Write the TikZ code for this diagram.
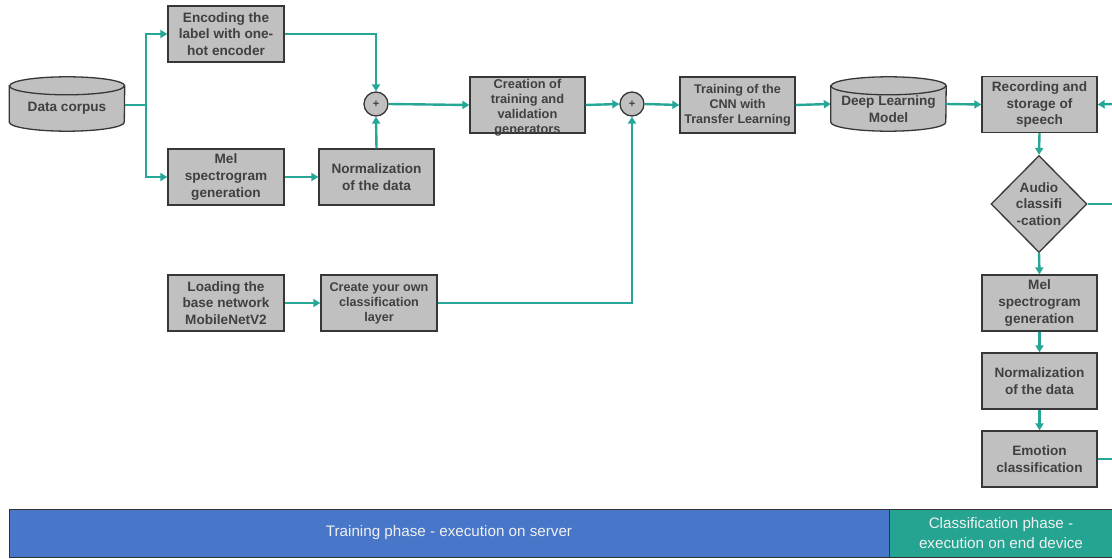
\documentclass[tikz,border=0pt]{standalone}
\usepackage{fontspec}
\setmainfont{Liberation Sans}
\usetikzlibrary{shapes.geometric,arrows.meta,backgrounds}
\definecolor{conncol}{RGB}{38,166,150}
\definecolor{boxfill}{RGB}{192,192,192}
\definecolor{boxline}{RGB}{55,55,55}
\definecolor{txtcol}{RGB}{64,64,64}
\definecolor{barblue}{RGB}{72,118,200}
\definecolor{barteal}{RGB}{38,164,146}
% #1 node, #2 ellipse y radius, #3 upward offset of the cylinder w.r.t. the node
\newcommand\mycyl[3]{%
  \path[draw=boxline, fill=boxfill, line width=1.3pt]
    ([yshift=#3-#2]#1.north west) -- ([yshift=#3+#2]#1.south west)
    arc[start angle=180, end angle=360, x radius=57.5pt, y radius=#2]
    -- ([yshift=#3-#2]#1.north east)
    arc[start angle=0, end angle=180, x radius=57.5pt, y radius=#2] -- cycle;
  \draw[boxline, line width=1.3pt] ([yshift=#3-#2]#1.north west)
    arc[start angle=180, end angle=360, x radius=57.5pt, y radius=#2];
}
\begin{document}
\begin{tikzpicture}[x=1pt,y=-1pt,
  box/.style={draw=boxline, fill=boxfill, line width=1.3pt, minimum width=115pt,
    minimum height=56pt, inner sep=0pt, align=center, text=txtcol,
    font=\bfseries\fontsize{13.6}{16.6}\selectfont},
  smallbox/.style={box, font=\bfseries\fontsize{12.6}{15}\selectfont},
  cylnode/.style={minimum width=115pt, minimum height=54pt, inner sep=0pt, text=txtcol,
    align=center, font=\bfseries\fontsize{13.6}{16.6}\selectfont},
  decision/.style={diamond, aspect=1, draw=boxline, fill=boxfill, line width=1.3pt,
    minimum width=96pt, minimum height=97pt, inner sep=0pt, align=center, text=txtcol,
    font=\bfseries\fontsize{13.6}{16.6}\selectfont},
  plus/.style={circle, draw=boxline, fill=boxfill, line width=1.3pt, minimum size=24pt,
    inner sep=0pt, text=txtcol, font=\bfseries\fontsize{11}{11}\selectfont},
  conn/.style={draw=conncol, line width=2.4pt, -{Triangle[length=7pt,width=8pt]}},
  line/.style={draw=conncol, line width=2.4pt},
  bar/.style={draw=black!80, line width=0.8pt, minimum height=48pt, inner sep=0pt,
    align=center, text=white!94!black, font=\fontsize{15.2}{19.5}\selectfont}
]
\useasboundingbox (0,0) rectangle (1112,559);

% training branch
\node[cylnode] (dc) at (67,108) {Data corpus};
\node[box, minimum width=116pt] (enc) at (226,34) {Encoding the\\label with one-\\hot encoder};
\node[box, minimum width=116pt] (mel) at (226,177) {Mel\\spectrogram\\generation};
\node[box] (norm) at (376.5,177) {Normalization\\of the data};
\node[plus] (p1) at (376,104) {+};
\node[smallbox, font=\bfseries\fontsize{12.8}{15}\selectfont] (cre) at (527.5,105) {\raisebox{-6pt}[0pt][0pt]{\begin{tabular}{@{}c@{}}Creation of\\training and\\validation\\generators\end{tabular}}};
\node[plus] (p2) at (632,104) {+};
\node[box, minimum width=116pt] (load) at (226,303) {Loading the\\base network\\MobileNetV2};
\node[smallbox, minimum width=116pt] (own) at (379,303) {Create your own\\classification\\layer};
\node[smallbox] (cnn) at (737.5,105) {Training of the\\CNN with\\Transfer Learning};
\node[cylnode] (dlm) at (888.5,109) {Deep Learning\\Model};

% classification branch
\node[box] (rec) at (1039.5,104.5) {Recording and\\storage of\\speech};
\node[decision] (dia) at (1039,204) {Audio\\classifi\\-cation};
\node[box] (mel2) at (1039.5,303) {Mel\\spectrogram\\generation};
\node[box] (norm2) at (1039.5,381) {Normalization\\of the data};
\node[box] (emo) at (1039.5,459) {Emotion\\classification};

\begin{scope}[on background layer]
  \mycyl{dc}{9pt}{4pt}
  \mycyl{dlm}{9pt}{5pt}
\end{scope}

\coordinate (br) at (146,105);
\coordinate (rin) at (1112,104);
\coordinate (aout) at (1112,204);
\coordinate (eout) at (1112,459);

\draw[line] ([yshift=3pt]dc.east) -- (br);
\draw[conn] (br) |- (enc.west);
\draw[conn] (br) |- (mel.west);
\draw[conn] (enc.east) -| (p1.north);
\draw[conn] (mel.east) -- (norm.west);
\draw[conn] (norm.north) -- (p1.south);
\draw[conn] (p1.east) -- (cre.west);
\draw[conn] (cre.east) -- (p2.west);
\draw[conn] (load.east) -- (own.west);
\draw[conn] (own.east) -| (p2.south);
\draw[conn] (p2.east) -- (cnn.west);
\draw[conn] (cnn.east) -- ([yshift=5pt]dlm.west);
\draw[conn] ([yshift=5pt]dlm.east) -- (rec.west);
\draw[conn] (rin) -- (rec.east);
\draw[conn] (rec.south) -- (dia.north);
\draw[line] (dia.east) -- (aout);
\draw[conn] (dia.south) -- (mel2.north);
\draw[conn] (mel2.south) -- (norm2.north);
\draw[conn] (norm2.south) -- (emo.north);
\draw[line] (emo.east) -- (eout);

% phase bars
\node[bar, fill=barblue, minimum width=880pt] (train) at (449,533) {Training phase - execution on server};
\node[bar, fill=barteal, minimum width=224pt] (cls) at (1001,533) {Classification phase -\\execution on end device};
\end{tikzpicture}
\end{document}
